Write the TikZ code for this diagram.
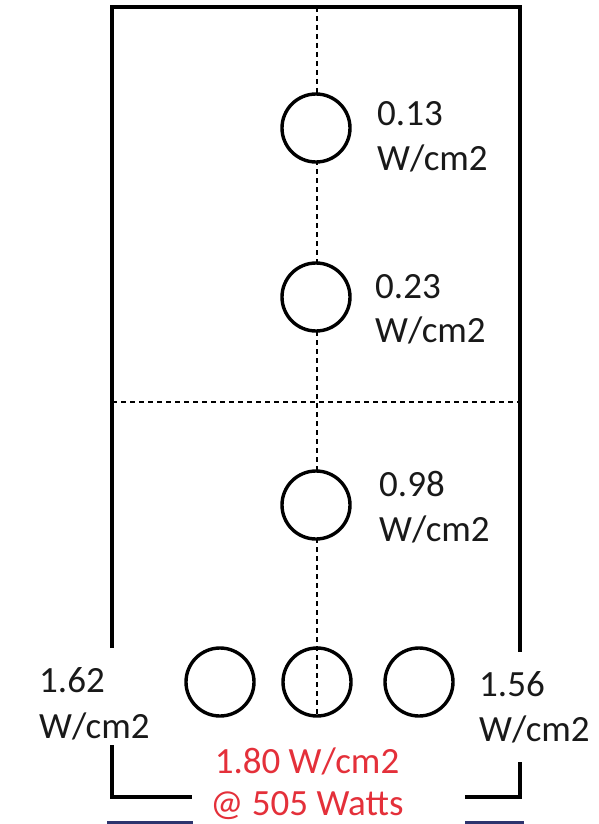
\documentclass[tikz,border=0pt]{standalone}
\usepackage{fontspec}
\setmainfont{Carlito}
\definecolor{redtxt}{RGB}{228,48,58}
\definecolor{navy}{RGB}{45,52,110}
\definecolor{txt}{RGB}{25,25,25}
\begin{document}
\begin{tikzpicture}[x=1pt,y=-1pt,
  frame/.style={line width=3.6pt},
  guide/.style={line width=1.6pt,dash pattern=on 5pt off 4pt},
  hole/.style={circle,draw,line width=3.4pt,minimum size=68pt,inner sep=0pt},
  lbl/.style={anchor=base west,inner sep=0pt,text=txt,font=\fontsize{37}{42}\selectfont},
  rlbl/.style={anchor=base,inner sep=0pt,font=\fontsize{37}{42}\selectfont,text=redtxt}]
\fill[white] (0,0) rectangle (598,824);
\useasboundingbox (0,0) rectangle (598,824);
% frame
\coordinate (lb1) at (112,648);
\coordinate (lb2) at (112,745);
\coordinate (rb1) at (520,652);
\coordinate (rb2) at (520,762);
\coordinate (blc) at (112,797);
\coordinate (brc) at (520,797);
\coordinate (bl) at (192,797);
\coordinate (br) at (465,797);
\draw[frame] (lb1) -- (112,7) -- (520,7) -- (rb1);
\draw[frame] (lb2) -- (blc) -- (bl);
\draw[frame] (rb2) -- (brc) -- (br);
% navy line at bottom edge
\coordinate (n1) at (107,822);
\coordinate (n2) at (193,822);
\coordinate (n3) at (465,822);
\coordinate (n4) at (524,822);
\draw[navy,line width=3pt] (n1) -- (n2);
\draw[navy,line width=3pt] (n3) -- (n4);
% guides
\coordinate (vt) at (317,7);
\coordinate (vb) at (317,716);
\coordinate (hl) at (112,402);
\coordinate (hr) at (520,402);
\draw[guide] (vt) -- (vb);
\draw[guide] (hl) -- (hr);
% holes
\node[hole,fill=white] (h1) at (316,128) {};
\node[hole,fill=white] (h2) at (316,297) {};
\node[hole,fill=white] (h3) at (316,505) {};
\node[hole,fill=white] (h4) at (220,682) {};
\node[hole] (h5) at (317,682) {};
\node[hole,fill=white] (h6) at (419,682) {};
% labels
\node[lbl] (t1a) at (377,125) {0.13};
\node[lbl] (t1b) at (377,170) {W/cm2};
\node[lbl] (t2a) at (375,298) {0.23};
\node[lbl] (t2b) at (375,342) {W/cm2};
\node[lbl] (t3a) at (379,496) {0.98};
\node[lbl] (t3b) at (379,541) {W/cm2};
\node[lbl] (t4a) at (39,692) {1.62};
\node[lbl] (t4b) at (39,738) {W/cm2};
\node[lbl] (t5a) at (479,696) {1.56};
\node[lbl] (t5b) at (479,741) {W/cm2};
\node[rlbl] (r1) at (307,773) {1.80 W/cm2};
\node[rlbl] (r2) at (307,815) {@ 505 Watts};
\end{tikzpicture}
\end{document}
